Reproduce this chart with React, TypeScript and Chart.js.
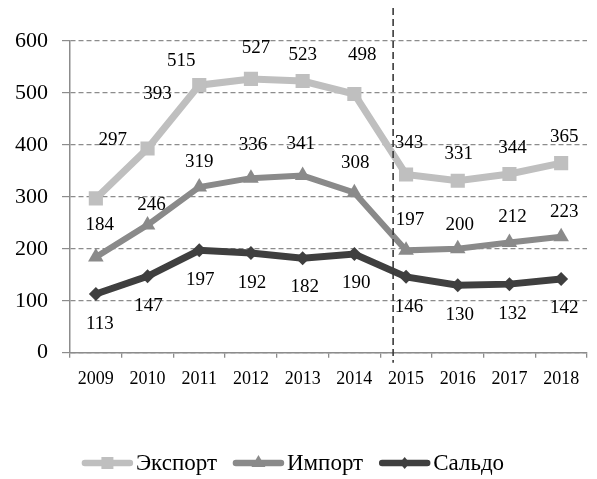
import React, { useEffect, useRef } from "react";
import { Chart, registerables } from "chart.js";

Chart.register(...registerables);

const years = ["2009", "2010", "2011", "2012", "2013", "2014", "2015", "2016", "2017", "2018"];
const exportValues = [297, 393, 515, 527, 523, 498, 343, 331, 344, 365];
const importValues = [184, 246, 319, 336, 341, 308, 197, 200, 212, 223];
const saldoValues = [113, 147, 197, 192, 182, 190, 146, 130, 132, 142];
const seriesNames = ["Экспорт", "Импорт", "Сальдо"];
const yTicks = [0, 100, 200, 300, 400, 500, 600];
const dividerIndex = 5.75;

// label offsets (pixels relative to point)
const exportLabelDx = [17, 10, -18, 5, 0, 8, 3, 1, 3, 3];
const exportLabelDy = [-58, -55, -24, -31, -26, -39, -31, -27, -26, -26];
const importLabelDx = [4, 4, 0, 2, -2, 1, 4, 2, 3, 3];
const importLabelDy = [-32, -20, -25, -33, -32, -30, -30, -24, -26, -25];
const saldoLabelDx = [4, 1, 1, 1, 2, 2, 3, 2, 3, 3];
const saldoLabelDy = [30, 30, 30, 30, 29, 29, 30, 30, 30, 29];

const COLORS = ["#bfbfbf", "#8a8a8a", "#3f3f3f"];
const FONT = "'Liberation Serif', 'Times New Roman', serif";

const labelPlugin = {
  id: "labels",
  afterDatasetsDraw(chart: any) {
    const ctx = chart.ctx;
    const dxs = [exportLabelDx, importLabelDx, saldoLabelDx];
    const dys = [exportLabelDy, importLabelDy, saldoLabelDy];
    ctx.save();
    ctx.font = `19px ${FONT}`;
    ctx.fillStyle = "#000";
    ctx.textAlign = "center";
    ctx.textBaseline = "middle";
    chart.data.datasets.forEach((ds: any, di: number) => {
      const meta = chart.getDatasetMeta(di);
      meta.data.forEach((pt: any, i: number) => {
        ctx.fillText(String(ds.data[i]), pt.x + dxs[di][i], pt.y + dys[di][i]);
      });
    });
    ctx.restore();
  },
};

const dividerPlugin = {
  id: "divider",
  afterDraw(chart: any) {
    const ctx = chart.ctx;
    const xs = chart.scales.x;
    const i0 = Math.floor(dividerIndex);
    const p0 = xs.getPixelForValue(i0);
    const p1 = xs.getPixelForValue(i0 + 1);
    const x = p0 + (p1 - p0) * (dividerIndex - i0);
    ctx.save();
    ctx.strokeStyle = "#3a3a3a";
    ctx.lineWidth = 1.6;
    ctx.setLineDash([7, 4]);
    ctx.beginPath();
    ctx.moveTo(x, 8);
    ctx.lineTo(x, chart.chartArea.bottom + 10);
    ctx.stroke();
    ctx.restore();
  },
};

const legendPlugin = {
  id: "customLegend",
  afterDraw(chart: any) {
    const ctx = chart.ctx;
    const y = 463;
    const lineLen = 51;
    const textGap = 3;
    const itemGap = 16;
    ctx.save();
    ctx.font = `23px ${FONT}`;
    const widths = seriesNames.map((n) => ctx.measureText(n).width);
    const total = widths.reduce((a, w) => a + lineLen + textGap + w, 0) + itemGap * (seriesNames.length - 1);
    let x = 293 - total / 2;
    chart.data.datasets.forEach((ds: any, i: number) => {
      ctx.strokeStyle = COLORS[i];
      ctx.lineWidth = 6.5;
      ctx.lineCap = "round";
      ctx.setLineDash([]);
      ctx.beginPath();
      ctx.moveTo(x + 3, y);
      ctx.lineTo(x + lineLen - 3, y);
      ctx.stroke();
      const cx = x + lineLen / 2;
      ctx.fillStyle = COLORS[i];
      ctx.beginPath();
      if (i === 0) {
        ctx.rect(cx - 6, y - 6, 12, 12);
      } else if (i === 1) {
        ctx.moveTo(cx, y - 8);
        ctx.lineTo(cx + 7, y + 4);
        ctx.lineTo(cx - 7, y + 4);
        ctx.closePath();
      } else {
        ctx.moveTo(cx, y - 6);
        ctx.lineTo(cx + 5, y);
        ctx.lineTo(cx, y + 6);
        ctx.lineTo(cx - 5, y);
        ctx.closePath();
      }
      ctx.fill();
      ctx.fillStyle = "#000";
      ctx.textAlign = "left";
      ctx.textBaseline = "middle";
      ctx.fillText(seriesNames[i], x + lineLen + textGap, y + 1);
      x += lineLen + textGap + widths[i] + itemGap;
    });
    ctx.restore();
  },
};

export default function App() {
  const ref = useRef<HTMLCanvasElement | null>(null);
  useEffect(() => {
    if (!ref.current) return;
    const chart = new Chart(ref.current, {
      type: "line",
      data: {
        labels: years,
        datasets: [
          {
            label: seriesNames[0],
            data: exportValues,
            borderColor: COLORS[0],
            backgroundColor: COLORS[0],
            borderWidth: 7,
            pointStyle: "rect",
            pointRadius: 10,
            pointBorderWidth: 0,
            tension: 0,
          },
          {
            label: seriesNames[1],
            data: importValues,
            borderColor: COLORS[1],
            backgroundColor: COLORS[1],
            borderWidth: 6,
            pointStyle: "triangle",
            pointRadius: 9,
            pointBorderWidth: 0,
            tension: 0,
          },
          {
            label: seriesNames[2],
            data: saldoValues,
            borderColor: COLORS[2],
            backgroundColor: COLORS[2],
            borderWidth: 7,
            pointStyle: "rectRot",
            pointRadius: 7,
            pointBorderWidth: 0,
            tension: 0,
          },
        ],
      },
      options: {
        animation: false,
        responsive: true,
        maintainAspectRatio: false,
        layout: { padding: { top: 41, right: 4, left: 0, bottom: 0 } },
        plugins: { legend: { display: false }, tooltip: { enabled: false } },
        scales: {
          x: {
            offset: true,
            grid: {
              offset: true,
              drawOnChartArea: false,
              drawTicks: true,
              tickLength: 5,
              color: "#8c8c8c",
              lineWidth: 1.3,
            },
            border: { display: true, color: "#8c8c8c", width: 1.5 },
            ticks: { font: { family: FONT, size: 18 }, color: "#000", padding: 11, maxRotation: 0, autoSkip: false },
            afterFit: (s: any) => {
              s.height = 126.3;
            },
          },
          y: {
            min: yTicks[0],
            max: yTicks[yTicks.length - 1],
            afterBuildTicks: (s: any) => {
              s.ticks = yTicks.map((v) => ({ value: v }));
            },
            grid: { color: "#8c8c8c", lineWidth: 1.2, tickLength: 8 },
            border: { display: true, color: "#8c8c8c", width: 1.5, dash: [5, 3] },
            ticks: { font: { family: FONT, size: 22 }, color: "#000", padding: 14 },
            afterFit: (s: any) => {
              s.width = 70;
            },
          },
        },
      },
      plugins: [labelPlugin, dividerPlugin, legendPlugin],
    });
    return () => chart.destroy();
  }, []);
  return (
    <div style={{ position: "fixed", left: 0, top: 0, width: 597, height: 479, background: "#fff" }}>
      <canvas ref={ref} />
    </div>
  );
}
